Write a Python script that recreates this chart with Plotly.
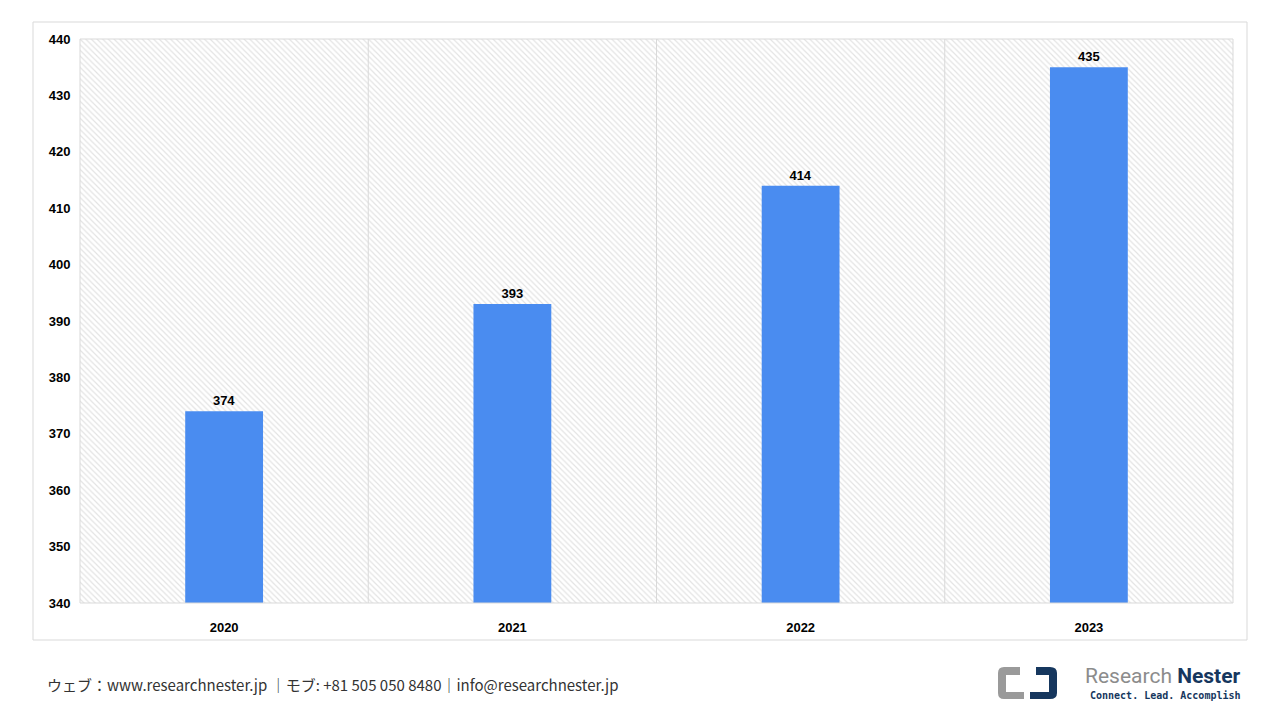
import plotly.graph_objects as go

years = ["2020", "2021", "2022", "2023"]
values = [374, 393, 414, 435]
y_ticks = list(range(340, 441, 10))

# page body adds an 8px margin, so draw on a 1264x704 canvas
OFF = 8
W, H = 1280 - 2 * OFF, 720 - 2 * OFF
L, R, T, B = 80 - OFF, 47 - OFF, 39 - OFF, 117 - OFF
pw, ph = W - L - R, H - T - B

def px_x(x):
    return (x - OFF - L) / pw

def px_y(y):
    return (H - B - (y - OFF)) / ph

xs = list(range(len(years)))

fig = go.Figure()
# hatched plot background
fig.add_trace(go.Bar(
    x=xs, y=[max(y_ticks)] * len(xs), width=1, hoverinfo="skip",
    marker=dict(color="white", line_width=0,
                pattern=dict(shape="\\", fgcolor="#c8c8c8", bgcolor="white", size=4, solidity=0.3)),
    showlegend=False,
))
fig.add_trace(go.Bar(
    x=xs, y=values, width=0.27, marker_color="#4a8cf0", marker_line_width=0,
    text=[f"<b>{v}</b>" for v in values], textposition="outside",
    textfont=dict(family="Arial", size=13, color="black"), cliponaxis=False,
    showlegend=False,
))

shapes = [
    dict(type="rect", xref="paper", yref="paper",
         x0=px_x(33), x1=px_x(1247), y0=px_y(640), y1=px_y(22),
         line=dict(color="#d9d9d9", width=1), layer="below"),
    dict(type="rect", xref="paper", yref="paper", x0=0, x1=1, y0=0, y1=1,
         line=dict(color="#d9d9d9", width=1)),
]
for b in [0.5, 1.5, 2.5]:
    shapes.append(dict(type="line", xref="x", yref="paper", x0=b, x1=b, y0=0, y1=1,
                       line=dict(color="#d9d9d9", width=1)))
# logo icon
shapes.append(dict(type="path", xref="paper", yref="paper",
    path=f"M {px_x(1020)},{px_y(667)} L {px_x(1004)},{px_y(667)} Q {px_x(998)},{px_y(667)} {px_x(998)},{px_y(673)} "
         f"L {px_x(998)},{px_y(693)} Q {px_x(998)},{px_y(699)} {px_x(1004)},{px_y(699)} L {px_x(1024)},{px_y(699)} "
         f"L {px_x(1024)},{px_y(692)} L {px_x(1006)},{px_y(692)} L {px_x(1006)},{px_y(675)} L {px_x(1020)},{px_y(675)} Z",
    fillcolor="#9a9a9a", line_width=0))
shapes.append(dict(type="path", xref="paper", yref="paper",
    path=f"M {px_x(1036)},{px_y(667)} L {px_x(1050)},{px_y(667)} Q {px_x(1057)},{px_y(667)} {px_x(1057)},{px_y(673)} "
         f"L {px_x(1057)},{px_y(693)} Q {px_x(1057)},{px_y(699)} {px_x(1050)},{px_y(699)} L {px_x(1030)},{px_y(699)} "
         f"L {px_x(1030)},{px_y(692)} L {px_x(1049)},{px_y(692)} L {px_x(1049)},{px_y(675)} L {px_x(1036)},{px_y(675)} Z",
    fillcolor="#16375e", line_width=0))

annotations = [
    dict(text="ウェブ：www.researchnester.jp ｜モブ: +81 505 050 8480｜info@researchnester.jp",
         xref="paper", yref="paper", x=px_x(45), y=px_y(684), xanchor="left", yanchor="middle",
         showarrow=False, font=dict(family="Noto Sans CJK JP", size=15, color="#333333")),
    dict(text="<span style='color:#8c8c8c'>Research</span> <span style='color:#16375e'><b>Nester</b></span>",
         xref="paper", yref="paper", x=px_x(1243), y=px_y(676), xanchor="right", yanchor="middle",
         showarrow=False, font=dict(family="Roboto", size=21)),
    dict(text="<b>Connect. Lead. Accomplish</b>",
         xref="paper", yref="paper", x=px_x(1243), y=px_y(696), xanchor="right", yanchor="middle",
         showarrow=False, font=dict(family="DejaVu Sans Mono", size=10, color="#16375e")),
]

fig.update_layout(
    width=W, height=H, margin=dict(l=L, r=R, t=T, b=B),
    paper_bgcolor="white", plot_bgcolor="white", barmode="overlay",
    font=dict(family="Arial", size=13, color="black"),
    xaxis=dict(tickvals=xs, ticktext=[f"<b>{y}</b>" for y in years], range=[-0.5, 3.5],
               showgrid=False, zeroline=False, ticks="outside", ticklen=12, tickcolor="rgba(0,0,0,0)",
               tickfont=dict(size=13)),
    yaxis=dict(range=[340, 440], tickvals=y_ticks, ticktext=[f"<b>{t}</b>" for t in y_ticks],
               showgrid=True, gridcolor="#d9d9d9", zeroline=False, ticks="outside", ticklen=6,
               tickcolor="rgba(0,0,0,0)", tickfont=dict(size=13)),
    shapes=shapes, annotations=annotations,
)

fig.write_html("out.html")
